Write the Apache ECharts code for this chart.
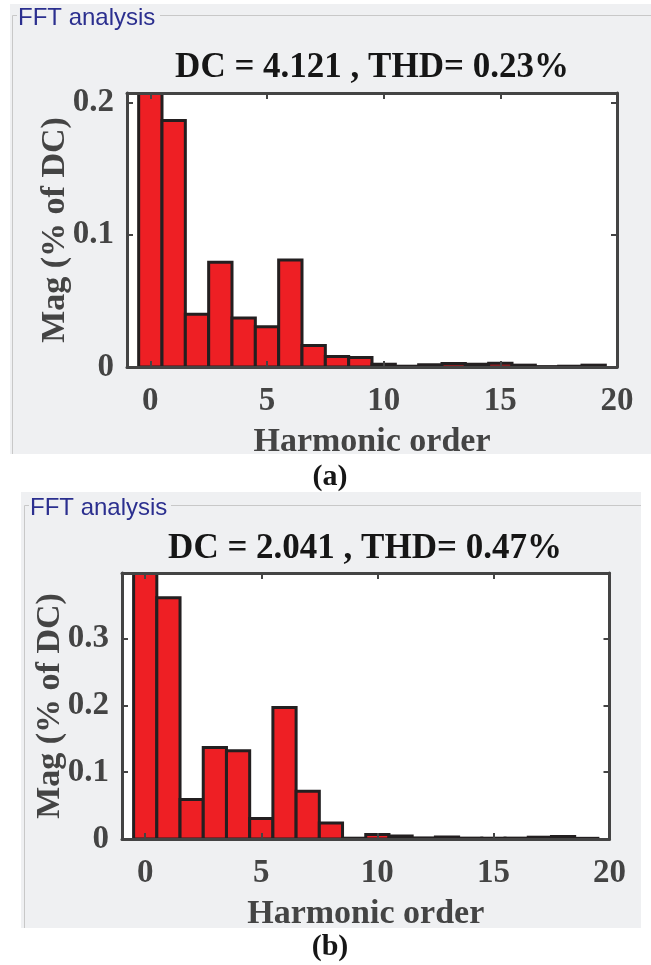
<!DOCTYPE html>
<html><head><meta charset="utf-8">
<script src="https://cdn.jsdelivr.net/npm/echarts@6/dist/echarts.min.js"></script>
<style>html,body{margin:0;padding:0;background:#fff;} #c{width:651px;height:965px;}</style>
</head><body><div id="c"></div>
<script>
// ---- data ----
const harmonics = [0,1,2,3,4,5,6,7,8,9,10,11,12,13,14,15,16,17,18,19];
const magA = [0.23, 0.1866, 0.040, 0.0793, 0.0372, 0.0305, 0.081, 0.0162, 0.0079, 0.0071, 0.0021, 0.0006, 0.0017, 0.0026, 0.0021, 0.0029, 0.0014, 0.0003, 0.0006, 0.0014];
const magB = [0.45, 0.361, 0.059, 0.137, 0.132, 0.0306, 0.1967, 0.0713, 0.024, 0.0012, 0.0067, 0.0046, 0.0016, 0.003, 0.0013, 0.0012, 0.0013, 0.0027, 0.0037, 0.001];
const xTickValues = [0,5,10,15,20];
const yTickValuesA = [0,0.1,0.2];
const yTickValuesB = [0,0.1,0.2,0.3];
const titleA = 'DC = 4.121 , THD= 0.23%';
const titleB = 'DC = 2.041 , THD= 0.47%';
const xName = 'Harmonic order';
const yName = 'Mag (% of DC)';
const panelLabel = 'FFT analysis';
const captions = ['(a)', '(b)'];

// ---- styles ----
const SERIF = '"Liberation Serif","Times New Roman",serif';
const SANS = '"Liberation Sans",Arial,sans-serif';
const AX = '#444444';
const X_MIN = -1, X_MAX = 20;
const tickFont = {fontFamily: SERIF, fontWeight: 'bold', fontSize: 33, color: AX};
const nameFont = {fontFamily: SERIF, fontWeight: 'bold', fontSize: 34, color: AX};
const grids = [
  {left: 127, top: 93, width: 490, height: 274},
  {left: 122, top: 573, width: 487.5, height: 266}
];

function xAxes(gi) {
  const base = {
    gridIndex: gi, type: 'value', min: X_MIN, max: X_MAX, z: 5,
    splitLine: {show: false},
    axisLine: {show: true, onZero: false, lineStyle: {color: AX, width: 3}},
    axisTick: {show: true, inside: true, length: 6, customValues: xTickValues, lineStyle: {color: AX, width: 2}}
  };
  return [
    Object.assign({}, base, {position: 'bottom',
      axisLabel: Object.assign({show: true, margin: 18, customValues: xTickValues}, tickFont),
      name: xName, nameLocation: 'middle', nameGap: 58, nameMoveOverlap: false, nameTextStyle: nameFont}),
    Object.assign({}, base, {position: 'top', axisLabel: {show: false}})
  ];
}
function yAxes(gi, yMax, ticks) {
  const base = {
    gridIndex: gi, type: 'value', min: 0, max: yMax, z: 5,
    splitLine: {show: false},
    axisLine: {show: true, onZero: false, lineStyle: {color: AX, width: 3}},
    axisTick: {show: true, inside: true, length: 6, customValues: ticks, lineStyle: {color: AX, width: 2}}
  };
  return [
    Object.assign({}, base, {position: 'left',
      axisLabel: Object.assign({show: true, margin: 13, customValues: ticks}, tickFont),
      name: yName, nameLocation: 'middle', nameGap: 55, nameMoveOverlap: false, nameTextStyle: nameFont}),
    Object.assign({}, base, {position: 'right', axisLabel: {show: false}})
  ];
}
// Bars drawn through the axes' own scales: each bar spans [h-0.5, h+0.5] on x, [0, value] on y.
function barSeries(gi, vals) {
  return {
    type: 'custom', xAxisIndex: gi * 2, yAxisIndex: gi * 2, clip: true,
    data: harmonics.map((h, i) => [h, vals[i]]),
    encode: {x: 0, y: 1},
    renderItem: function (params, api) {
      const h = api.value(0), v = api.value(1);
      const pBase = api.coord([h - 0.5, 0]);
      const pTop = api.coord([h + 0.5, v]);
      const cs = params.coordSys;
      const top = Math.max(pTop[1], cs.y);
      return {
        type: 'rect',
        shape: {x: pBase[0], y: top, width: pTop[0] - pBase[0], height: pBase[1] - top},
        style: {fill: '#ee1f24', stroke: '#231f20', lineWidth: 3}
      };
    }
  };
}
function txt(x, y, text, font, fill, align) {
  return {type: 'text', x: x, y: y, z: 20,
    style: {text: text, font: font, fill: fill, align: align || 'center', verticalAlign: 'middle'}};
}
function line(x1, y1, x2, y2) {
  return {type: 'line', z: -5, shape: {x1, y1, x2, y2}, style: {stroke: '#c8c8c8', lineWidth: 1}};
}

const chart = echarts.init(document.getElementById('c'), null, {renderer: 'canvas'});
chart.setOption({
  animation: false,
  backgroundColor: '#ffffff',
  grid: grids.map(g => Object.assign({show: true, backgroundColor: '#ffffff', borderWidth: 0, containLabel: false}, g)),
  xAxis: xAxes(0).concat(xAxes(1)),
  yAxis: yAxes(0, 0.2075, yTickValuesA).concat(yAxes(1, 0.398, yTickValuesB)),
  series: [barSeries(0, magA), barSeries(1, magB)],
  graphic: [
    {type: 'rect', z: -10, shape: {x: 10, y: 4, width: 641, height: 450}, style: {fill: '#eff0f2'}},
    {type: 'rect', z: -10, shape: {x: 21, y: 492, width: 620, height: 436}, style: {fill: '#eff0f2'}},
    line(12.5, 15.5, 17, 15.5), line(160, 15.5, 651, 15.5), line(12.5, 15.5, 12.5, 454),
    line(24.5, 505.5, 29, 505.5), line(171, 505.5, 641, 505.5), line(24.5, 505.5, 24.5, 928),
    txt(18, 18.5, panelLabel, '24px ' + SANS, '#2b2f8f', 'left'),
    txt(30, 508, panelLabel, '24px ' + SANS, '#2b2f8f', 'left'),
    txt(372, 68, titleA, 'bold 35px ' + SERIF, '#161616'),
    txt(365, 549, titleB, 'bold 35px ' + SERIF, '#161616'),
    txt(330, 477, captions[0], 'bold 30px ' + SERIF, '#161616'),
    txt(330, 947, captions[1], 'bold 30px ' + SERIF, '#161616')
  ]
});
</script></body></html>
